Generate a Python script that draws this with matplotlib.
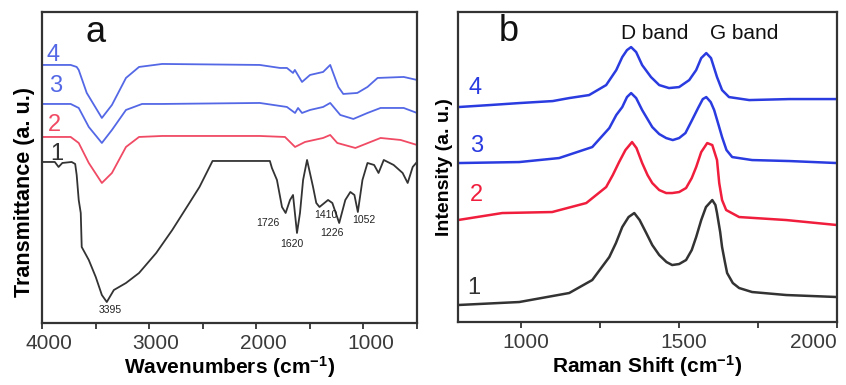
import numpy as np
import matplotlib
matplotlib.use('Agg')
import matplotlib.pyplot as plt
from matplotlib.ticker import MultipleLocator
from matplotlib.transforms import ScaledTranslation

plt.rcParams['font.family'] = ['Liberation Sans', 'DejaVu Sans']
plt.rcParams['mathtext.default'] = 'regular'

# ---- panel a : FTIR (wavenumber, offset transmittance in a.u.) ----
ir4_x = [4000, 3732, 3676, 3657, 3582, 3441, 3347, 3216, 3094, 2878, 1967, 1779, 1714, 1657, 1640,
         1573, 1498, 1376, 1310, 1234, 1188, 1057, 962, 868, 624, 500]
ir4_y = [258, 258, 256, 253, 230, 205, 218, 245, 256, 259, 258, 255, 255, 250, 253,
         241, 248, 251, 258, 236, 229, 230, 236, 245, 246, 243]

ir3_x = [4000, 3732, 3657, 3563, 3441, 3347, 3216, 3066, 2878, 1967, 1714, 1638, 1610, 1573, 1498,
         1376, 1310, 1216, 1094, 962, 840, 624, 500]
ir3_y = [219, 219, 215, 196, 180, 193, 213, 219, 219, 220, 216, 210, 215, 210, 213,
         216, 220, 208, 204, 210, 215, 215, 210]

ir2_x = [4000, 3732, 3657, 3563, 3441, 3347, 3216, 3094, 2878, 1967, 1732, 1638, 1545, 1376, 1310,
         1244, 1075, 934, 840, 653, 500]
ir2_y = [186, 186, 180, 160, 140, 150, 176, 186, 187, 187, 186, 176, 181, 185, 188,
         180, 175, 181, 185, 183, 178]

ir1_x = [4000, 3880, 3845, 3810, 3723, 3690, 3676, 3657, 3638, 3629, 3563, 3498, 3441, 3395, 3329,
         3216, 3094, 2934, 2784, 2624, 2530, 2408, 1873, 1854, 1807, 1760, 1726, 1685, 1657, 1620,
         1592, 1563, 1526, 1470, 1440, 1410, 1330, 1290, 1226, 1169, 1122, 1084, 1052, 1009, 962,
         900, 859, 810, 718, 634, 587, 540, 500]
ir1_y = [161, 161, 156, 160, 161, 159, 148, 123, 110, 76, 63, 46, 28, 21, 33,
         40, 50, 70, 93, 120, 136, 162, 162, 155, 143, 116, 110, 123, 128, 90,
         110, 143, 163, 136, 120, 116, 123, 120, 100, 123, 131, 128, 111, 143, 160,
         158, 150, 163, 158, 150, 140, 156, 161]

ir_peaks = ['3395', '1726', '1620', '1410', '1226', '1052']
ir_peak_pos = [(3366, 13), (1892, 100), (1666, 79), (1347, 108), (1291, 90), (1000, 103)]

# ---- panel b : Raman (shift, offset intensity in a.u.) ----
ra4_x = [800, 900, 994, 1100, 1152, 1215, 1269, 1301, 1320, 1335, 1348, 1364, 1383, 1411, 1437,
         1468, 1500, 1532, 1554, 1570, 1586, 1601, 1620, 1636, 1658, 1722, 1850, 2000]
ra4_y = [215, 217, 219, 221, 224, 227, 237, 252, 265, 272, 275, 270, 257, 245, 237,
         234, 235, 242, 252, 264, 269, 264, 245, 232, 225, 222, 223, 223]

ra3_x = [800, 994, 1120, 1225, 1279, 1301, 1320, 1335, 1348, 1364, 1383, 1415, 1437, 1459, 1480,
         1500, 1520, 1541, 1560, 1575, 1586, 1600, 1611, 1625, 1636, 1650, 1668, 1731, 1850, 2000]
ra3_y = [159, 160, 164, 175, 194, 207, 215, 225, 229, 224, 212, 195, 188, 184, 182,
         184, 189, 202, 214, 223, 225, 220, 212, 197, 185, 172, 165, 162, 161, 159]

ra2_x = [800, 940, 1098, 1206, 1269, 1290, 1310, 1330, 1351, 1365, 1383, 1400, 1415, 1437, 1459,
         1478, 1500, 1522, 1540, 1554, 1570, 1589, 1605, 1620, 1627, 1636, 1649, 1690, 1839, 2000]
ra2_y = [102, 109, 110, 119, 135, 147, 160, 172, 180, 174, 159, 147, 139, 132, 129,
         129, 130, 134, 144, 155, 170, 179, 177, 162, 139, 122, 112, 105, 102, 97]

ra1_x = [800, 994, 1152, 1225, 1279, 1300, 1320, 1340, 1358, 1375, 1396, 1415, 1437, 1460, 1478,
         1500, 1522, 1540, 1554, 1570, 1585, 1605, 1615, 1620, 1630, 1636, 1645, 1652, 1670, 1690,
         1731, 1839, 2000]
ra1_y = [17, 20, 29, 42, 65, 79, 95, 105, 109, 102, 89, 77, 67, 60, 57,
         58, 62, 72, 85, 102, 115, 122, 117, 109, 90, 75, 60, 49, 39, 34,
         30, 27, 25]

labels = ['4', '3', '2', '1']
ir_label_pos = [(3892, 268), (3873, 237), (3883, 198), (3864, 169)]
ra_label_pos = [(854, 234), (858, 176), (858, 127), (851, 34)]

blue_a, red_a = '#5468e6', '#f04a64'
blue_b, red_b = '#2a3be0', '#f01e3c'
dark = '#333333'

fig = plt.figure(figsize=(8.46, 3.85), dpi=100)
ax1 = fig.add_axes([0.0496, 0.161, 0.4433, 0.808])
ax2 = fig.add_axes([0.5414, 0.1636, 0.448, 0.805])

ax1.plot(ir4_x, ir4_y, color=blue_a, lw=1.3)
ax1.plot(ir3_x, ir3_y, color=blue_a, lw=1.3)
ax1.plot(ir2_x, ir2_y, color=red_a, lw=1.3)
ax1.plot(ir1_x, ir1_y, color=dark, lw=1.3)
for t, (x, y) in zip(ir_peaks, ir_peak_pos):
    ax1.text(x, y, t, fontsize=7.5, ha='center', va='center', color='#222222')
for t, (x, y), c in zip(labels, ir_label_pos, [blue_a, blue_a, red_a, dark]):
    ax1.text(x, y, t, fontsize=17, ha='center', va='center', color=c)
ax1.text(3497, 290, 'a', fontsize=26, ha='center', va='center', color='#111111')
ax1.set_xlim(4000, 500)
ax1.set_ylim(0, 311)
ax1.set_xticks([4000, 3000, 2000, 1000])
ax1.xaxis.set_minor_locator(MultipleLocator(500))
ax1.set_xlabel('Wavenumbers (cm$^{-1}$)', fontsize=15, fontweight='bold', labelpad=1)
ax1.set_ylabel('Transmittance (a. u.)', fontsize=15.5, fontweight='bold')
ax1.yaxis.set_label_coords(-0.019, 0.42)

ax2.plot(ra4_x, ra4_y, color=blue_b, lw=1.8)
ax2.plot(ra3_x, ra3_y, color=blue_b, lw=1.8)
ax2.plot(ra2_x, ra2_y, color=red_b, lw=1.8)
ax2.plot(ra1_x, ra1_y, color=dark, lw=1.8)
for t, (x, y), c in zip(labels, ra_label_pos, [blue_b, blue_b, red_b, dark]):
    ax2.text(x, y, t, fontsize=17, ha='center', va='center', color=c)
ax2.text(962, 291, 'b', fontsize=26, ha='center', va='center', color='#111111')
ax2.text(1424, 289, 'D band', fontsize=15, ha='center', va='center', color='#111111')
ax2.text(1706, 289, 'G band', fontsize=15, ha='center', va='center', color='#111111')
ax2.set_xlim(800, 2000)
ax2.set_ylim(0, 310)
ax2.set_xticks([1000, 1500, 2000])
ax2.xaxis.set_minor_locator(MultipleLocator(250))
ax2.set_xlabel('Raman Shift (cm$^{-1}$)', fontsize=15, fontweight='bold', labelpad=1)
ax2.set_ylabel('Intensity (a. u.)', fontsize=14, fontweight='bold')
ax2.yaxis.set_label_coords(-0.013, 0.5)

for ax in (ax1, ax2):
    ax.set_yticks([])
    for s in ax.spines.values():
        s.set_color(dark)
        s.set_linewidth(1.6)
    ax.tick_params(axis='x', which='both', direction='out', length=4, width=1.3,
                   color=dark, labelsize=15, labelcolor='#3a3a3a', pad=4)

# tick labels in the original sit a little right of their ticks
for tk in ax1.xaxis.get_major_ticks():
    tk.label1.set_transform(tk.label1.get_transform() + ScaledTranslation(7 / 100, 0, fig.dpi_scale_trans))
for tk in ax2.xaxis.get_major_ticks()[:-1]:
    tk.label1.set_transform(tk.label1.get_transform() + ScaledTranslation(5 / 100, 0, fig.dpi_scale_trans))
# last Raman tick label sits inside the frame
ax2.xaxis.get_major_ticks()[-1].label1.set_horizontalalignment('right')

fig.savefig('out.png', dpi=100)
